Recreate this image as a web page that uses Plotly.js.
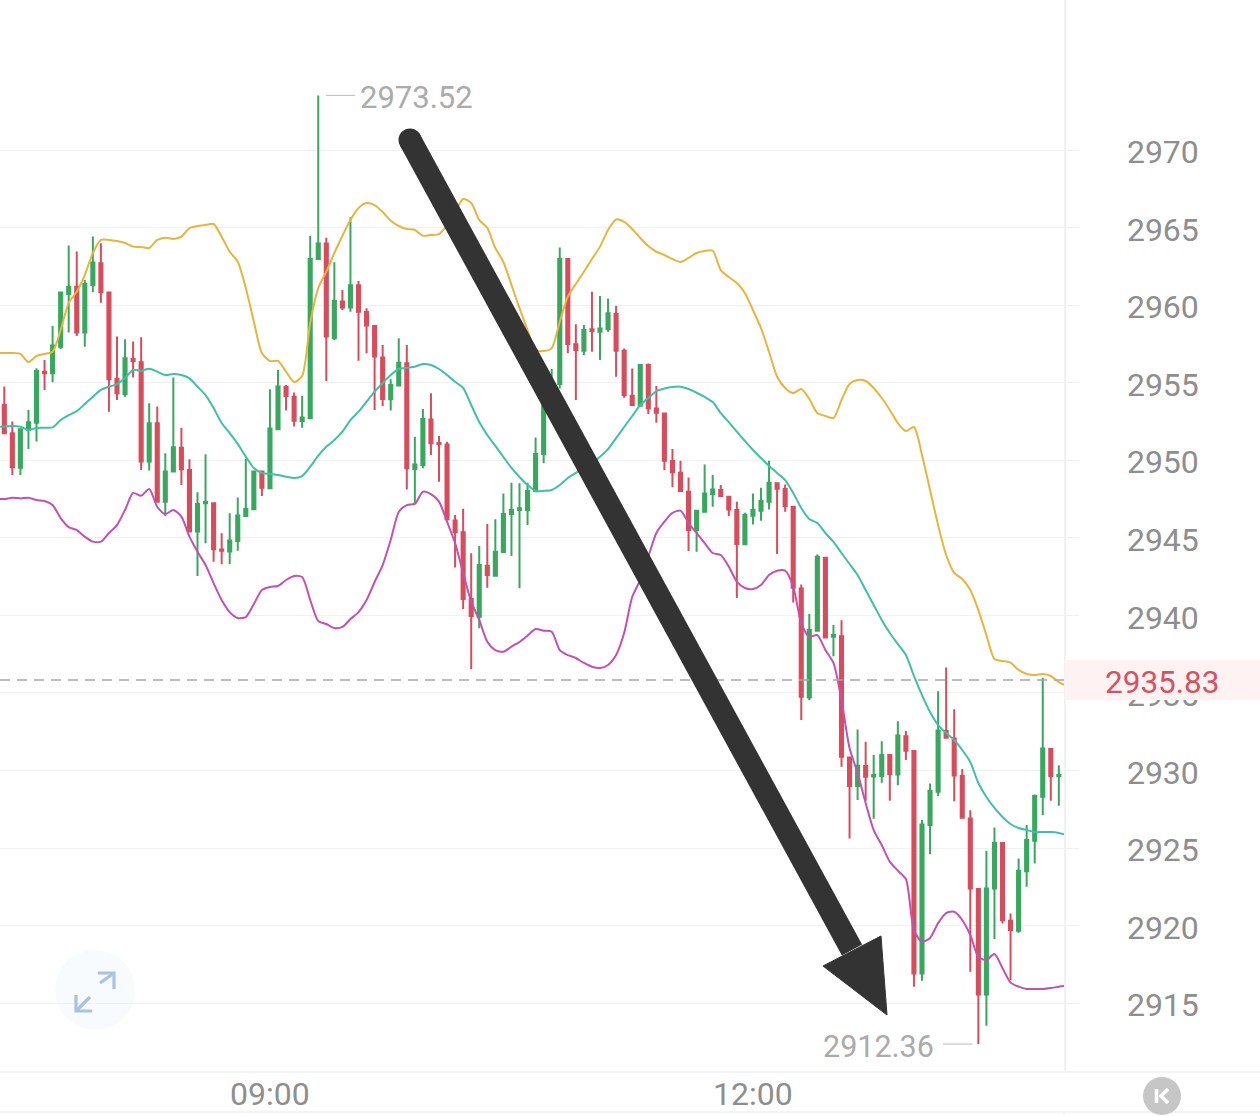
<!DOCTYPE html>
<html>
<head>
<meta charset="utf-8">
<script src="https://cdn.plot.ly/plotly-3.0.1.min.js"></script>
<style>html,body{margin:0;padding:0;background:#fff}#chart{width:1260px;height:1116px}</style>
</head>
<body>
<div id="chart"></div>
<script>
const opens = [2953.56,2951.74,2949.52,2951.95,2952.42,2955.71,2955.6,2957.32,2960.72,2961.19,
2958.23,2961.3,2962.7,2960.81,2955.24,2954.25,2956.53,2956.31,2949.91,2952.38,
2947.33,2949.27,2950.81,2949.37,2945.4,2947.22,2947.22,2944.24,2944.11,2944.8,
2946.41,2946.84,2949.27,2948.19,2951.99,2954.74,2954.1,2952.53,2952.7,2962.97,
2963.98,2957.86,2960.23,2959.84,2961.28,2959.56,2958.66,2956.63,2953.93,2954.81,
2956.25,2949.43,2949.69,2952.63,2951.11,2951.02,2946.12,2945.35,2941.05,2939.91,
2943.2,2942.56,2944.08,2946.53,2946.79,2946.79,2948.01,2950.4,2954.08,2954.91,
2962.97,2957.47,2957.06,2958.44,2958.29,2958.46,2959.42,2957.06,2954.16,2953.51,
2956.14,2953.34,2953.02,2949.95,2949.2,2947.97,2945.5,2946.68,2947.82,2948.08,
2947.65,2946.79,2944.58,2946.42,2946.75,2947.33,2948.51,2948.14,2947.0,2941.73,
2934.71,2939.0,2943.71,2938.62,2938.66,2930.84,2928.99,2930.28,2929.61,2929.64,
2930.99,2929.74,2932.21,2931.25,2916.91,2926.48,2928.62,2932.54,2932.06,2929.64,
2926.91,2922.35,2915.56,2922.39,2925.32,2920.31,2919.66,2923.51,2925.47,2928.3,
2931.38,2929.64];
const highs = [2954.75,2952.49,2952.06,2953.24,2955.93,2956.46,2958.66,2960.81,2963.84,2963.45,
2961.62,2964.42,2963.99,2960.81,2957.97,2957.8,2957.65,2957.93,2953.67,2953.46,
2950.45,2955.33,2952.1,2950.06,2947.93,2950.38,2947.22,2945.29,2946.58,2947.59,
2950.08,2949.27,2949.27,2954.57,2955.82,2954.85,2954.36,2954.14,2964.46,2973.52,
2964.35,2962.76,2960.98,2965.66,2961.56,2959.79,2958.72,2957.43,2955.22,2957.86,
2957.43,2951.52,2953.3,2954.31,2951.56,2951.19,2946.47,2946.87,2944.0,2944.47,
2945.89,2946.19,2947.86,2948.55,2948.51,2948.55,2951.47,2954.33,2955.88,2963.72,
2962.97,2958.76,2958.72,2960.86,2960.59,2960.43,2959.96,2957.21,2955.92,2956.14,
2956.24,2954.78,2953.06,2950.72,2949.97,2948.89,2946.79,2949.73,2949.04,2948.4,
2947.69,2947.33,2946.62,2947.86,2948.23,2949.97,2948.51,2948.44,2947.0,2941.99,
2940.08,2943.93,2943.73,2939.37,2939.69,2930.88,2932.64,2931.85,2930.99,2931.89,
2930.99,2933.18,2932.54,2931.27,2926.8,2929.16,2935.1,2936.64,2933.95,2930.09,
2927.44,2922.39,2924.82,2926.33,2925.34,2920.78,2924.33,2926.48,2928.45,2935.98,
2931.42,2930.34];
const lows = [2951.74,2949.05,2949.05,2950.73,2951.2,2954.53,2955.02,2957.17,2958.23,2958.01,
2957.32,2960.83,2960.16,2953.13,2953.89,2954.1,2955.33,2949.37,2949.33,2947.33,
2946.41,2949.27,2948.41,2945.4,2942.54,2944.65,2943.46,2943.29,2943.29,2944.17,
2946.41,2946.84,2947.7,2948.19,2951.95,2953.2,2952.17,2952.1,2952.7,2962.97,
2955.11,2957.75,2959.69,2959.58,2956.42,2956.89,2953.24,2953.5,2953.2,2954.81,
2948.12,2947.22,2949.48,2950.34,2948.62,2946.14,2943.09,2940.41,2936.52,2939.16,
2941.78,2942.56,2944.08,2943.82,2941.74,2945.82,2947.93,2949.8,2953.88,2954.63,
2956.89,2953.88,2956.78,2957.0,2956.46,2958.29,2955.38,2954.03,2953.56,2953.51,
2952.98,2952.42,2949.37,2948.25,2948.01,2944.15,2944.1,2946.68,2947.0,2947.69,
2946.4,2941.12,2944.58,2945.86,2946.1,2946.83,2943.95,2946.68,2940.83,2933.25,
2934.53,2939.0,2938.51,2937.37,2930.24,2925.62,2928.09,2928.04,2926.88,2929.21,
2928.04,2929.05,2930.67,2916.05,2916.44,2924.59,2928.35,2932.11,2928.02,2926.95,
2917.02,2912.36,2913.54,2919.13,2920.14,2916.48,2919.53,2922.5,2924.0,2927.12,
2928.04,2927.72];
const closes = [2951.74,2949.54,2951.99,2952.45,2955.76,2955.6,2957.39,2960.81,2961.19,2958.23,
2961.36,2962.74,2960.83,2955.24,2954.32,2956.57,2956.4,2949.91,2952.38,2947.33,
2949.27,2950.83,2949.42,2945.4,2947.18,2947.31,2944.26,2944.17,2944.82,2946.43,
2946.86,2949.27,2948.23,2952.04,2954.75,2954.14,2952.55,2952.75,2962.97,2963.98,
2957.97,2960.27,2959.84,2961.28,2959.58,2958.68,2956.68,2953.95,2954.85,2956.29,
2949.48,2949.73,2952.66,2951.09,2951.04,2946.19,2945.35,2941.05,2939.96,2943.24,
2942.6,2944.1,2946.53,2946.79,2946.9,2948.01,2950.4,2954.08,2954.91,2962.97,
2957.49,2957.1,2958.39,2958.33,2958.5,2959.47,2957.06,2954.2,2953.56,2956.14,
2953.34,2953.06,2949.97,2949.22,2948.01,2945.5,2946.75,2947.86,2948.12,2947.69,
2946.83,2944.6,2946.47,2946.79,2947.37,2948.55,2948.16,2947.05,2941.78,2934.75,
2939.05,2943.78,2938.57,2938.73,2930.88,2928.99,2930.3,2929.59,2929.7,2930.99,
2929.76,2932.26,2931.27,2916.91,2926.52,2928.69,2932.58,2932.11,2929.68,2926.95,
2922.39,2915.56,2922.39,2925.32,2920.35,2919.71,2923.53,2925.51,2928.35,2931.42,
2929.64,2929.7];

// Bollinger bands: one reading per candle slot, starting one slot before the first candle, ending one after the last
const bandUpper = [2956.91,2956.91,2956.91,2956.85,2956.33,2956.72,2956.85,2957.0,2958.39,2960.14,2960.86,
2961.94,2963.36,2964.2,2964.2,2964.13,2964.0,2963.77,2963.75,2963.68,2964.2,
2964.35,2964.26,2964.41,2964.97,2965.1,2965.16,2965.23,2964.41,2963.44,2962.8,
2961.1,2958.93,2956.91,2956.4,2956.4,2955.71,2955.04,2955.43,2958.85,2961.1,
2962.15,2963.36,2964.47,2965.49,2966.26,2966.58,2966.45,2966.0,2965.44,2965.1,
2964.91,2964.84,2964.47,2964.52,2964.58,2965.16,2966.0,2966.84,2966.58,2965.49,
2964.97,2963.68,2962.78,2961.3,2959.81,2958.39,2957.11,2957.04,2957.23,2958.93,
2960.54,2961.36,2962.15,2962.97,2963.77,2964.84,2965.52,2965.36,2964.91,2964.33,
2963.81,2963.44,2963.23,2962.97,2962.78,2963.04,2963.36,2963.49,2963.51,2962.26,
2961.81,2961.42,2960.78,2959.68,2958.52,2956.98,2955.38,2954.66,2954.33,2954.59,
2953.95,2953.04,2952.85,2952.72,2953.88,2954.91,2955.17,2955.11,2954.66,2954.01,
2953.24,2952.4,2951.88,2952.14,2950.34,2948.08,2945.82,2943.89,2942.73,2942.34,
2941.63,2940.34,2938.73,2937.18,2937.06,2936.95,2936.48,2936.22,2936.15,2936.22,
2936.09,2935.7,2935.44];
const bandMiddle = [2952.16,2952.17,2952.21,2952.16,2951.95,2952.08,2952.1,2952.12,2952.59,2952.91,2953.17,
2953.62,2954.09,2954.53,2954.74,2954.91,2955.3,2955.82,2955.77,2955.9,2955.71,
2955.49,2955.56,2955.49,2955.28,2954.74,2954.2,2953.37,2952.4,2951.75,2951.05,
2950.23,2949.5,2949.18,2949.11,2949.05,2948.94,2948.85,2948.98,2949.58,2950.29,
2950.87,2951.3,2951.84,2952.59,2953.13,2953.77,2954.42,2954.98,2955.49,2955.88,
2955.96,2956.03,2956.2,2956.14,2955.88,2955.49,2955.06,2954.66,2953.56,2952.46,
2951.63,2950.92,2950.21,2949.5,2948.92,2948.4,2948.02,2948.03,2948.08,2948.4,
2948.85,2949.18,2949.5,2949.82,2950.23,2950.72,2951.43,2952.14,2952.85,2953.56,
2954.01,2954.46,2954.62,2954.72,2954.74,2954.59,2954.35,2954.08,2953.75,2953.04,
2952.46,2951.84,2951.24,2950.66,2950.14,2949.63,2949.18,2948.72,2947.89,2946.92,
2946.21,2945.95,2945.31,2944.73,2944.02,2943.31,2942.6,2941.63,2940.67,2939.7,
2938.86,2938.15,2937.44,2936.09,2934.86,2933.77,2932.93,2932.41,2931.96,2931.32,
2930.54,2929.19,2928.29,2927.58,2927.0,2926.55,2926.29,2926.16,2926.03,2926.03,
2926.03,2925.97,2925.84];
const bandLower = [2947.5,2947.5,2947.58,2947.54,2947.58,2947.43,2947.37,2947.11,2946.27,2945.69,2945.5,
2945.07,2944.75,2944.75,2945.31,2945.82,2946.79,2947.89,2947.71,2948.14,2947.0,
2946.53,2946.79,2946.36,2945.07,2944.1,2943.24,2942.08,2940.99,2940.21,2939.83,
2939.89,2940.73,2941.63,2941.83,2941.89,2942.28,2942.54,2942.47,2940.99,2939.63,
2939.44,2939.18,2939.25,2939.76,2940.21,2940.99,2942.15,2943.24,2944.86,2946.66,
2947.11,2947.18,2947.97,2947.82,2947.33,2946.04,2944.66,2942.73,2940.88,2939.7,
2938.3,2937.76,2937.65,2937.98,2938.28,2938.69,2939.12,2939.01,2938.94,2937.76,
2937.44,2937.25,2936.93,2936.69,2936.6,2936.8,2937.44,2938.86,2941.18,2942.28,
2943.78,2945.31,2946.04,2946.6,2946.75,2945.95,2945.31,2944.66,2944.02,2943.89,
2943.14,2942.17,2941.76,2941.7,2941.96,2942.6,2942.88,2942.88,2941.85,2939.51,
2938.62,2938.73,2937.76,2936.93,2934.54,2931.45,2929.83,2927.9,2926.16,2925.19,
2924.12,2923.54,2923.0,2919.71,2918.96,2919.2,2920.16,2920.81,2920.89,2920.36,
2919.39,2917.99,2917.78,2918.17,2917.26,2916.32,2916.06,2915.91,2915.91,2915.91,
2915.97,2916.06,2916.12];

const priceTicks = [2915,2920,2925,2930,2935,2940,2945,2950,2955,2960,2965,2970];
const timeTickSlots = [33,93];
const timeTickLabels = ['09:00','12:00'];
const lastPrice = 2935.83, maxPrice = 2973.52, minPrice = 2912.36;

const slots = opens.map((_, i) => i);
const bandSlots = bandUpper.map((_, i) => i - 1);

const PW = 1064, PH = 1072;
const px = v => v / PW, py = v => 1 - v / PH;
const ink = '#333333', soft = '#eff1f3', label = '#8e8e8e', mute = '#ababab';
const paperLine = (x0, y0, x1, y1, color, width) => ({type:'line', xref:'paper', yref:'paper',
  x0:px(x0), y0:py(y0), x1:px(x1), y1:py(y1), line:{color, width}});
const paperPath = (pts, fill, color, width, closed) => ({type:'path', xref:'paper', yref:'paper',
  path:'M' + pts.map(p => px(p[0]) + ' ' + py(p[1])).join(' L') + (closed ? ' Z' : ''),
  fillcolor: fill, line:{color, width}});
const paperCircle = (cx, cy, r, fill) => ({type:'circle', xref:'paper', yref:'paper',
  x0:px(cx-r), y0:py(cy-r), x1:px(cx+r), y1:py(cy+r), fillcolor:fill, line:{width:0}});

const shapes = [
  {type:'line', xref:'paper', yref:'y', x0:0, x1:1, y0:lastPrice, y1:lastPrice, line:{color:'#a6a6a6', width:1.6, dash:'10px,7px'}},
  {type:'rect', xref:'paper', yref:'paper', x0:px(1065), x1:px(1260), y0:py(660), y1:py(700), fillcolor:'#fef3f2', line:{width:0}},
  paperLine(0, 1072, 1260, 1072, soft, 1.5),
  paperLine(0, 1112, 1260, 1112, soft, 1.5),
  paperLine(1064, 1112, 1064, 1116, soft, 1.5),
  {type:'line', xref:'x', yref:'y', x0:39.96, x1:43.56, y0:maxPrice, y1:maxPrice, line:{color:'#c4c4c4', width:1.2}},
  {type:'line', xref:'x', yref:'y', x0:116.6, x1:120.3, y0:minPrice, y1:minPrice, line:{color:'#c4c4c4', width:1.2}},
  // hand-drawn arrow
  paperLine(410, 140, 852, 950, ink, 23),
  paperCircle(410, 140, 11.5, ink),
  paperPath([[823,966],[881,936],[887,1015]], ink, ink, 1, true),
  // expand button
  paperCircle(95, 990, 40, 'rgba(232,241,251,0.30)'),
  paperPath([[100,983],[114,973]], 'rgba(0,0,0,0)', '#a9c2e4', 3.2, false),
  paperPath([[98,973],[114,973],[114,989]], 'rgba(0,0,0,0)', '#a9c2e4', 3.2, false),
  paperPath([[90,997],[76,1011]], 'rgba(0,0,0,0)', '#a9c2e4', 3.2, false),
  paperPath([[76,995],[76,1011],[92,1011]], 'rgba(0,0,0,0)', '#a9c2e4', 3.2, false),
  // collapse button
  paperCircle(1162, 1096, 19, '#c6c6c6'),
  paperLine(1156.5, 1089, 1156.5, 1103, '#ffffff', 3.5),
  paperPath([[1168,1089],[1161,1096],[1168,1103]], 'rgba(0,0,0,0)', '#ffffff', 3.5, false)
];

const annotations = [
  {xref:'x', yref:'y', x:43.9, y:maxPrice, yshift:-2, text:'2973.52', showarrow:false, xanchor:'left', yanchor:'middle',
   font:{family:'Roboto', size:31, color:mute}},
  {xref:'x', yref:'y', x:115.8, y:minPrice, yshift:-2, text:'2912.36', showarrow:false, xanchor:'right', yanchor:'middle',
   font:{family:'Roboto', size:30.5, color:mute}},
  {xref:'paper', yref:'y', x:px(1162), y:lastPrice, yshift:-2, text:'2935.83', showarrow:false, xanchor:'center', yanchor:'middle',
   font:{family:'Roboto', size:31.5, color:'#d9505f'}}
];

const bandLine = (y, color) => ({type:'scatter', mode:'lines', x:bandSlots, y,
  line:{color, width:2, shape:'spline', smoothing:0.7}, hoverinfo:'skip', showlegend:false});

const data = [
  {type:'candlestick', x:slots, open:opens, high:highs, low:lows, close:closes,
   increasing:{line:{color:'#38a85f', width:2}, fillcolor:'#38a85f'},
   decreasing:{line:{color:'#d94c5b', width:2}, fillcolor:'#d94c5b'},
   whiskerwidth:0, showlegend:false},
  bandLine(bandUpper, '#e8b53a'),
  bandLine(bandMiddle, '#3ec1a4'),
  bandLine(bandLower, '#c450b2')
];

const layout = {
  width:1260, height:1116,
  margin:{l:0, r:196, t:0, b:44, pad:0},
  paper_bgcolor:'#ffffff', plot_bgcolor:'#ffffff',
  showlegend:false, boxgap:0.45,
  font:{family:'Roboto', color:label},
  xaxis:{type:'linear', range:[-0.534,131.64], rangeslider:{visible:false}, showgrid:false, zeroline:false,
    showline:false, ticks:'', tickmode:'array', tickvals:timeTickSlots, ticktext:timeTickLabels,
    tickfont:{family:'Roboto', size:32, color:label}, ticklabelstandoff:0},
  yaxis:{side:'right', range:[2910.56,2979.67], showgrid:true, gridcolor:soft, gridwidth:1, zeroline:false,
    showline:true, linecolor:soft, linewidth:1.5, ticks:'outside', ticklen:13, tickcolor:soft, tickwidth:1,
    tickmode:'array', tickvals:priceTicks, ticktext:priceTicks.map(String), ticklabelstandoff:42, ticklabelshift:2,
    tickfont:{family:'Roboto', size:32, color:label}},
  shapes, annotations
};

Plotly.newPlot('chart', data, layout, {displayModeBar:false, staticPlot:true});
</script>
</body>
</html>
